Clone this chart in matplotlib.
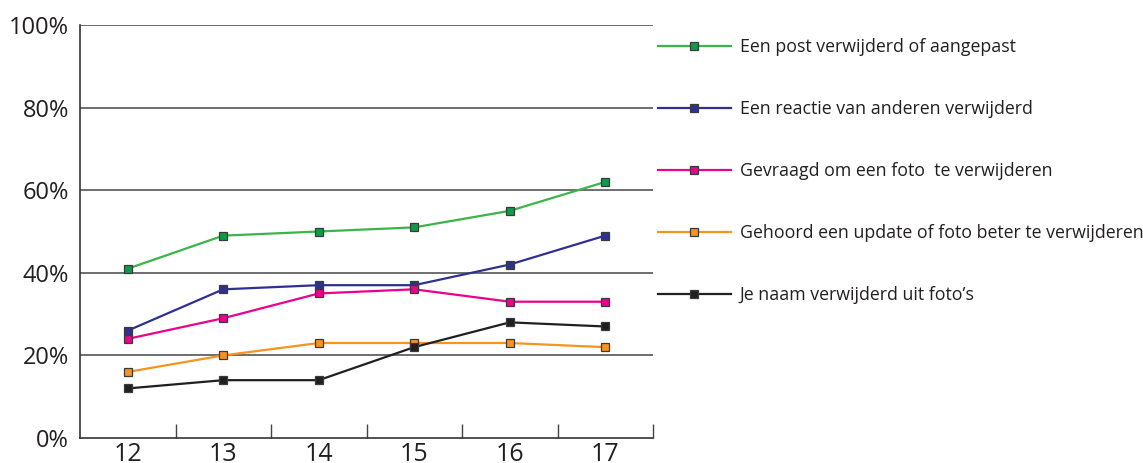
import matplotlib

matplotlib.use("Agg")
import matplotlib.pyplot as plt

plt.rcParams["font.family"] = ["Open Sans", "DejaVu Sans"]

ages = ["12", "13", "14", "15", "16", "17"]
labels = [
    "Een post verwijderd of aangepast",
    "Een reactie van anderen verwijderd",
    "Gevraagd om een foto  te verwijderen",
    "Gehoord een update of foto beter te verwijderen",
    "Je naam verwijderd uit foto\u2019s",
]
post = [41, 49, 50, 51, 55, 62]
reactie = [26, 36, 37, 37, 42, 49]
foto = [24, 29, 35, 36, 33, 33]
update = [16, 20, 23, 23, 23, 22]
naam = [12, 14, 14, 22, 28, 27]

series = [post, reactie, foto, update, naam]
line_colors = ["#3ab54a", "#2e3192", "#ec008c", "#f7941d", "#231f20"]
face_colors = ["#0f9a4a", "#2e3192", "#ec008c", "#f7941d", "#231f20"]

fig = plt.figure(figsize=(11.43, 4.63), dpi=100)
ax = fig.add_axes([80 / 1143, 25 / 463, 573 / 1143, 413 / 463])

x = list(range(len(ages)))
for vals, lab, lc, fc in zip(series, labels, line_colors, face_colors):
    ax.plot(x, vals, color=lc, lw=1.6, marker="s", ms=5.5, mfc=fc,
            mec="#3a3a3a", mew=0.9, label=lab, zorder=3)

ax.set_xlim(-0.5, 5.5)
ax.set_ylim(0, 100)
ax.set_yticks([0, 20, 40, 60, 80, 100])
ax.set_yticklabels([f"{v}%" for v in [0, 20, 40, 60, 80, 100]], fontsize=17, color="#231f20")
ax.set_xticks(x)
ax.set_xticklabels(ages, fontsize=18, color="#231f20")
ax.set_xticks([i + 0.5 for i in range(6)], minor=True)
ax.tick_params(axis="x", which="major", length=0, pad=3)
ax.tick_params(axis="x", which="minor", direction="in", length=10, width=1, color="#444444")
ax.tick_params(axis="y", length=0, pad=8)
for y in [20, 40, 60, 80, 100]:
    ax.axhline(y, color="#555555", lw=1.2, zorder=1)
for s in ["top", "right"]:
    ax.spines[s].set_visible(False)
ax.spines["left"].set_color("#333333")
ax.spines["bottom"].set_color("#333333")
ax.spines["left"].set_linewidth(1.2)
ax.spines["bottom"].set_linewidth(1.2)

leg = ax.legend(loc="upper left", bbox_to_anchor=(658 / 1143, 1 - 38 / 463),
                bbox_transform=fig.transFigure, frameon=False, fontsize=12.8,
                handlelength=4.1, handletextpad=0.5, labelspacing=2.48,
                borderaxespad=0, borderpad=0)
for t in leg.get_texts():
    t.set_color("#231f20")

fig.savefig("out.png", dpi=100)
